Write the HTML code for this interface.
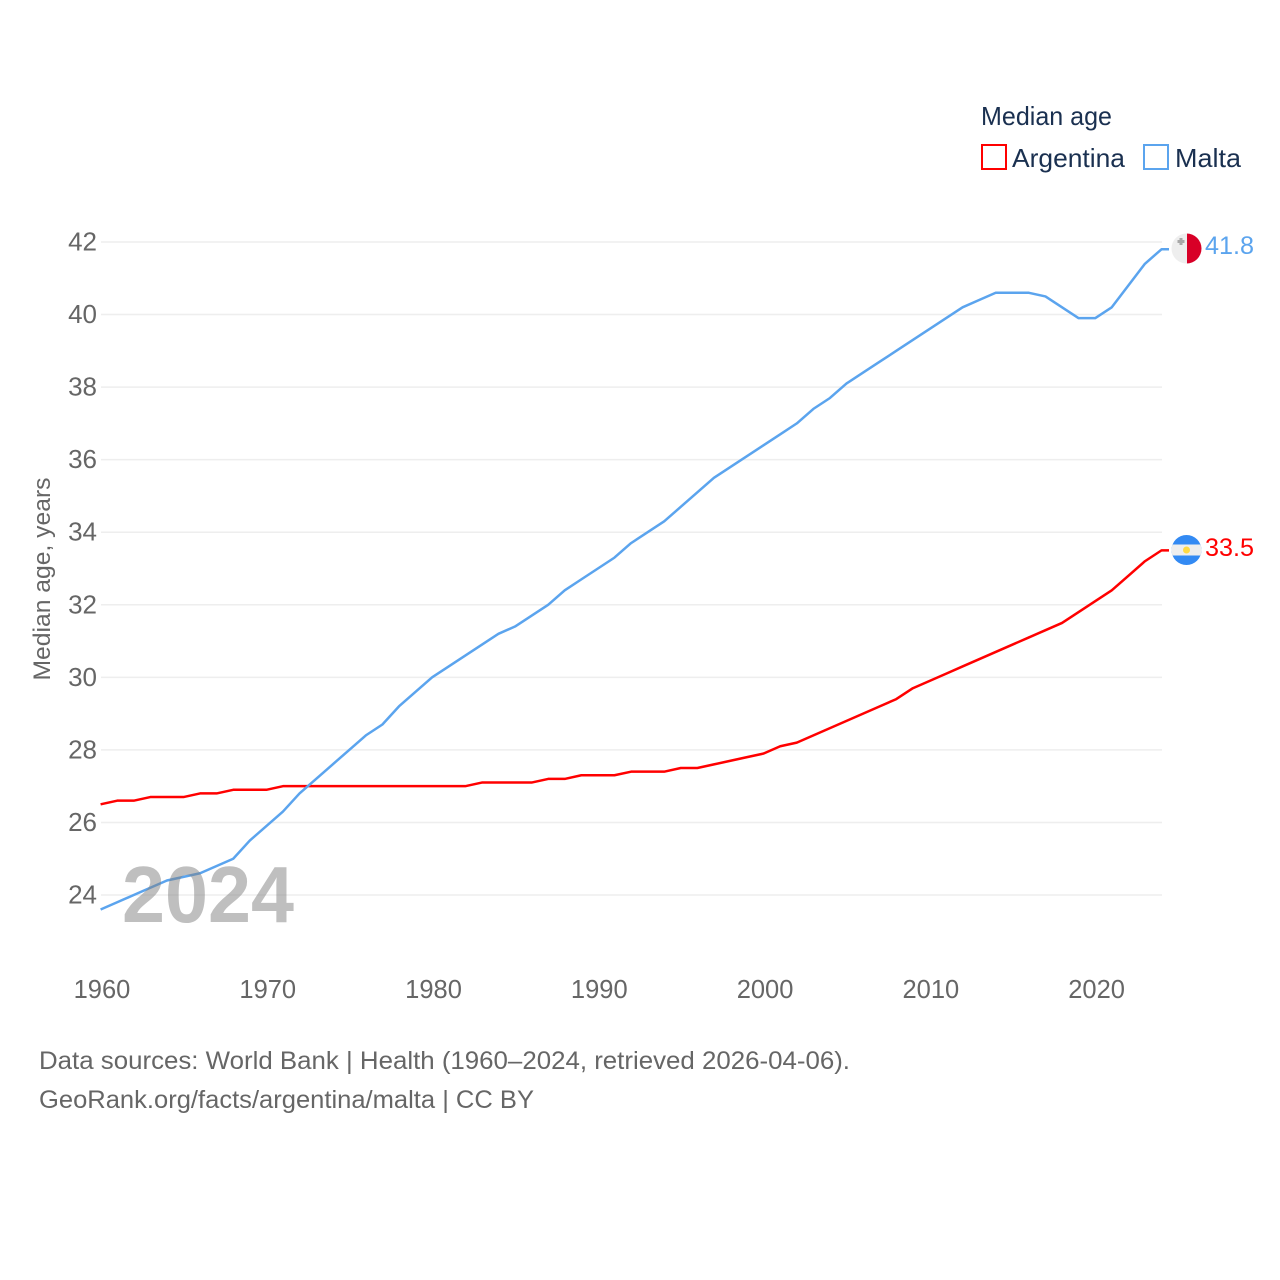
<!DOCTYPE html>
<html lang="en">
<head>
<meta charset="utf-8">
<title>Median age: Argentina and Malta</title>
<style>
html,body{margin:0;padding:0;background:#fff;width:1280px;height:1280px;overflow:hidden}
svg{display:block;font-family:"Liberation Sans",sans-serif}
</style>
</head>
<body>
<svg id="chart" width="1280" height="1280" viewBox="0 0 1280 1280" xmlns="http://www.w3.org/2000/svg">
  <rect width="1280" height="1280" fill="#fff"/>
  <g id="grid"></g>
  <g id="yticks"></g>
  <g id="xticks"></g>
  <text transform="translate(50,579) rotate(-90)" text-anchor="middle" font-size="24" fill="#666" textLength="203" lengthAdjust="spacingAndGlyphs">Median age, years</text>
  <g id="series"></g>
  <text x="122" y="922" font-size="80" font-weight="bold" fill="#808080" fill-opacity="0.5" textLength="172" lengthAdjust="spacingAndGlyphs">2024</text>

  <g>
    <text x="981" y="125" font-size="26" fill="#1a3050" textLength="131" lengthAdjust="spacingAndGlyphs">Median age</text>
    <g>
      <rect x="982" y="145" width="24" height="24" fill="#fff" stroke="#ff0000" stroke-width="2"/>
      <text x="1012" y="167" font-size="26" fill="#1a3050" textLength="113" lengthAdjust="spacingAndGlyphs">Argentina</text>
    </g>
    <g>
      <rect x="1144" y="145" width="24" height="24" fill="#fff" stroke="#5ba4ee" stroke-width="2"/>
      <text x="1175" y="167" font-size="26" fill="#1a3050" textLength="66" lengthAdjust="spacingAndGlyphs">Malta</text>
    </g>
  </g>

  <defs>
    <clipPath id="flag-clip-mt"><circle cx="1186.5" cy="248.5" r="15"/></clipPath>
    <clipPath id="flag-clip-ar"><circle cx="1186.5" cy="550" r="15"/></clipPath>
  </defs>
  <g clip-path="url(#flag-clip-mt)">
    <rect x="1171" y="233" width="16" height="31" fill="#eeeeee"/>
    <rect x="1187" y="233" width="15" height="31" fill="#d80027"/>
    <path d="M1179.500 238h3v2h2v3h-2v2h-3v-2h-2v-3h2z" fill="#a8a8a8"/>
  </g>
  <g clip-path="url(#flag-clip-ar)">
    <rect x="1171" y="534" width="31" height="32" fill="#338af3"/>
    <rect x="1171" y="544.500" width="31" height="11" fill="#eeeeee"/>
    <circle cx="1186.500" cy="550" r="3.500" fill="#ffda44"/>
  </g>
  <text x="1205" y="254" font-size="25" fill="#5ba4ee" textLength="49" lengthAdjust="spacingAndGlyphs">41.8</text>
  <text x="1205" y="556" font-size="25" fill="#ff0000" textLength="49" lengthAdjust="spacingAndGlyphs">33.5</text>

  <g>
    <text x="39" y="1069" font-size="25" fill="#666" textLength="811" lengthAdjust="spacingAndGlyphs">Data sources: World Bank | Health (1960–2024, retrieved 2026-04-06).</text>
    <text x="39" y="1108" font-size="25" fill="#666" textLength="495" lengthAdjust="spacingAndGlyphs">GeoRank.org/facts/argentina/malta | CC BY</text>
  </g>
</svg>
<script>
const yTickValues = [24, 26, 28, 30, 32, 34, 36, 38, 40, 42];
const xTickValues = [1960, 1970, 1980, 1990, 2000, 2010, 2020];
const startYear = 1960;
const argentinaValues = [26.5,26.6,26.6,26.7,26.7,26.7,26.8,26.8,26.9,26.9,26.9,27.0,27.0,27.0,27.0,27.0,27.0,27.0,27.0,27.0,27.0,27.0,27.0,27.1,27.1,27.1,27.1,27.2,27.2,27.3,27.3,27.3,27.4,27.4,27.4,27.5,27.5,27.6,27.7,27.8,27.9,28.1,28.2,28.4,28.6,28.8,29.0,29.2,29.4,29.7,29.9,30.1,30.3,30.5,30.7,30.9,31.1,31.3,31.5,31.8,32.1,32.4,32.8,33.2,33.5];
const maltaValues = [23.6,23.8,24.0,24.2,24.4,24.5,24.6,24.8,25.0,25.5,25.9,26.3,26.8,27.2,27.6,28.0,28.4,28.7,29.2,29.6,30.0,30.3,30.6,30.9,31.2,31.4,31.7,32.0,32.4,32.7,33.0,33.3,33.7,34.0,34.3,34.7,35.1,35.5,35.8,36.1,36.4,36.7,37.0,37.4,37.7,38.1,38.4,38.7,39.0,39.3,39.6,39.9,40.2,40.4,40.6,40.6,40.6,40.5,40.2,39.9,39.9,40.2,40.8,41.4,41.8];

const NS = 'http://www.w3.org/2000/svg';
const xScale = year => 100.6 + (year - 1960) * (1161.5 - 100.6) / 64;
const yScale = value => 895 - (value - 24) * (895 - 242) / 18;

const gridGroup = document.getElementById('grid');
const yGroup = document.getElementById('yticks');
yTickValues.forEach(function (tick) {
  const line = document.createElementNS(NS, 'line');
  
  
  line.setAttribute('x1', 101);
  line.setAttribute('x2', 1162);
  line.setAttribute('y1', yScale(tick));
  line.setAttribute('y2', yScale(tick));
  line.setAttribute('stroke', '#eeeeee');
  line.setAttribute('stroke-width', 1.5);
  gridGroup.appendChild(line);

  const label = document.createElementNS(NS, 'text');
  
  
  label.setAttribute('x', 97);
  label.setAttribute('y', yScale(tick) + 8.5);
  label.setAttribute('text-anchor', 'end');
  label.setAttribute('font-size', 26);
  label.setAttribute('fill', '#666');
  label.textContent = tick;
  yGroup.appendChild(label);
});

const xGroup = document.getElementById('xticks');
xTickValues.forEach(function (tick) {
  const label = document.createElementNS(NS, 'text');
  
  
  label.setAttribute('x', xScale(tick) + 1.4);
  label.setAttribute('y', 998);
  label.setAttribute('text-anchor', 'middle');
  label.setAttribute('font-size', 25.5);
  label.setAttribute('fill', '#666');
  label.textContent = tick;
  xGroup.appendChild(label);
});

const seriesGroup = document.getElementById('series');
function drawSeries(values, color, name) {
  const points = values.map((v, i) => xScale(startYear + i).toFixed(2) + ',' + yScale(v).toFixed(2));
  const lastValue = values[values.length - 1];
  points.push('1169,' + yScale(lastValue).toFixed(2));
  const path = document.createElementNS(NS, 'polyline');
  
  
  path.setAttribute('points', points.join(' '));
  path.setAttribute('fill', 'none');
  path.setAttribute('stroke', color);
  path.setAttribute('stroke-width', 2.5);
  path.setAttribute('stroke-linejoin', 'round');
  seriesGroup.appendChild(path);
}
drawSeries(argentinaValues, '#ff0000', 'argentina-line');
drawSeries(maltaValues, '#5ba4ee', 'malta-line');
</script>
</body>
</html>
